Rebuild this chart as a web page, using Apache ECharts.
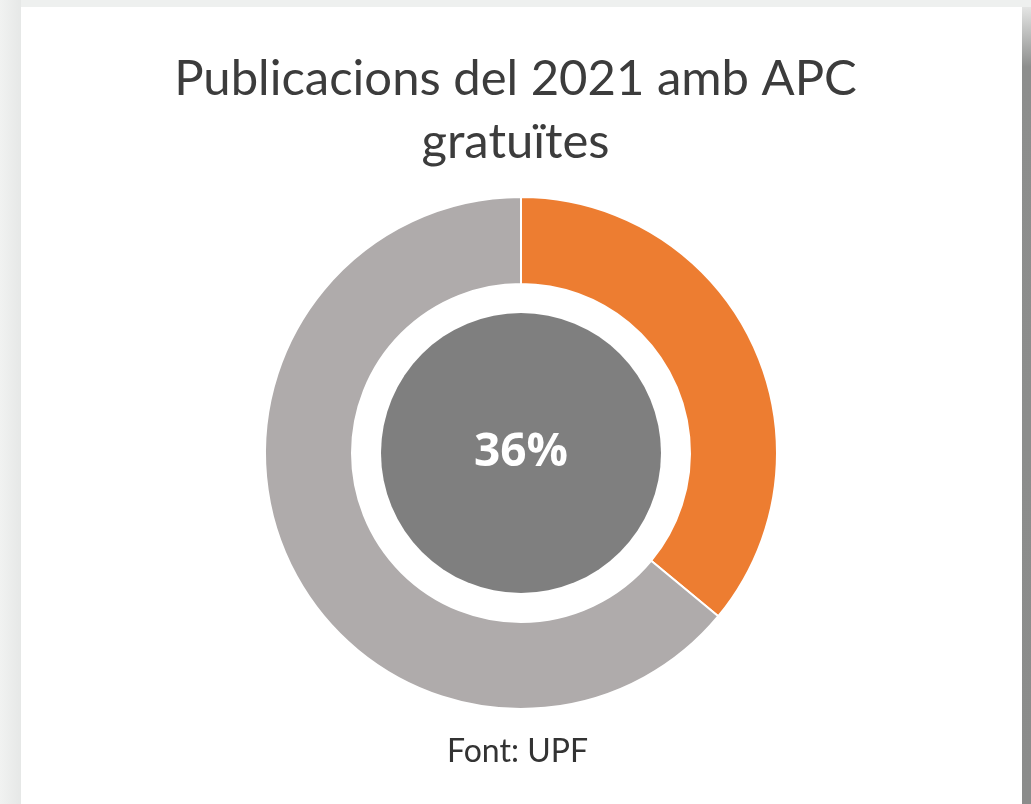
<!DOCTYPE html>
<html>
<head>
<meta charset="utf-8">
<script src="https://cdn.jsdelivr.net/npm/echarts@6/dist/echarts.min.js"></script>
<style>
  html, body { margin: 0; padding: 0; width: 1031px; height: 804px; overflow: hidden; background: #eef0ef; }
  .card { position: absolute; left: 21px; top: 7px; width: 1001px; height: 797px; background: #ffffff; }
  .edge { position: absolute; left: 1022px; top: 7px; width: 9px; height: 797px;
          background: linear-gradient(to bottom, #e4e5e4 0px, #8d8e8d 60px, #8b8c8b 100%); }
  .shade { position: absolute; left: 0; top: 0; width: 21px; height: 804px;
           background: linear-gradient(to right, #f1f2f1, #e6e8e7); }
  #chart { position: absolute; left: 0; top: 0; width: 1031px; height: 804px; }
</style>
</head>
<body>
<div class="shade"></div>
<div class="card"></div>
<div class="edge"></div>
<div id="chart"></div>
<script>
const categories = ['APC gratuïtes', 'Altres']
const values = [36, 64]
const colors = ['#ed7d31', '#afabab']
const centerLabel = '36%'

const chart = echarts.init(document.getElementById('chart'))

const option = {
  backgroundColor: 'transparent',
  animation: false,
  title: [
    {
      text: 'Publicacions del 2021 amb APC\ngratuïtes',
      left: 'center',
      top: 43,
      textStyle: {
        fontFamily: 'Lato',
        fontSize: 49,
        fontWeight: 'normal',
        lineHeight: 63,
        color: '#3c3c3c'
      }
    },
    {
      text: 'Font: UPF',
      left: 442,
      top: 731,
      textStyle: {
        fontFamily: 'Lato',
        fontSize: 32,
        fontWeight: 'normal',
        color: '#333333'
      }
    }
  ],
  series: [
    {
      type: 'pie',
      center: [521, 453],
      radius: [169, 256],
      startAngle: 90,
      clockwise: true,
      silent: true,
      label: { show: false },
      labelLine: { show: false },
      itemStyle: { borderColor: '#ffffff', borderWidth: 2 },
      data: categories.map((name, i) => ({
        name,
        value: values[i],
        itemStyle: { color: colors[i] }
      }))
    },
    {
      type: 'pie',
      center: [521, 453],
      radius: [0, 140],
      silent: true,
      labelLine: { show: false },
      label: {
        show: true,
        position: 'center',
        formatter: centerLabel,
        fontFamily: 'Open Sans',
        fontWeight: 'bold',
        fontSize: 46,
        color: '#ffffff'
      },
      itemStyle: { color: '#7f7f7f' },
      data: [{ name: 'centre', value: 1 }]
    }
  ]
}

chart.setOption(option)
</script>
</body>
</html>
